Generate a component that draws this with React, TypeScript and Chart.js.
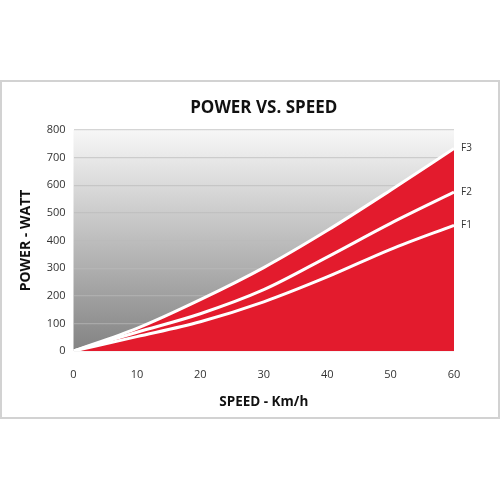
import React, { useEffect, useRef } from "react";
import { Chart, registerables } from "chart.js";

Chart.register(...registerables);

const speeds = [0, 10, 20, 30, 40, 50, 60];
const f1Power = [0, 52, 106, 178, 268, 368, 455];
const f2Power = [0, 68, 135, 222, 340, 462, 575];
const f3Power = [0, 82, 186, 302, 436, 582, 733];
const seriesLabels = ["F1", "F2", "F3"];
const yTicks = [0, 100, 200, 300, 400, 500, 600, 700, 800];
const xTicks = [0, 10, 20, 30, 40, 50, 60];

const RED = "#e31b2d";
const FONT = "'Open Sans', 'Noto Sans', sans-serif";

const toPoints = (vals: number[]) => vals.map((v, i) => ({ x: speeds[i], y: v }));

const bgPlugin = {
  id: "plotGradient",
  beforeDraw(chart: any) {
    const { ctx, chartArea } = chart;
    if (!chartArea) return;
    const g = ctx.createLinearGradient(0, chartArea.top, 0, chartArea.bottom);
    g.addColorStop(0, "#f7f7f7");
    g.addColorStop(1, "#838383");
    ctx.save();
    ctx.fillStyle = g;
    ctx.fillRect(chartArea.left, chartArea.top, chartArea.right - chartArea.left, chartArea.bottom - chartArea.top);
    ctx.restore();
  },
};

const labelPlugin = {
  id: "endLabels",
  afterDraw(chart: any) {
    const { ctx, chartArea, scales } = chart;
    ctx.save();
    ctx.fillStyle = "#111";
    ctx.font = `bold 17px ${FONT}`;
    ctx.textAlign = "center";
    ctx.textBaseline = "middle";
    ctx.fillText("POWER VS. SPEED", (chartArea.left + chartArea.right) / 2, chartArea.top - 22);
    ctx.font = `10px ${FONT}`;
    ctx.fillStyle = "#333";
    ctx.textAlign = "left";
    chart.data.datasets.forEach((ds: any) => {
      const last = ds.data[ds.data.length - 1];
      const px = scales.x.getPixelForValue(last.x) + 7;
      const py = scales.y.getPixelForValue(last.y);
      ctx.fillText(ds.label, px, py);
    });
    ctx.restore();
  },
};

export default function App() {
  const ref = useRef<HTMLCanvasElement>(null);
  useEffect(() => {
    if (!ref.current) return;
    const lineStyle = {
      borderColor: "#ffffff",
      borderWidth: 3,
      pointRadius: 0,
      cubicInterpolationMode: "monotone",
    };
    const chart = new Chart(ref.current, {
      type: "line",
      data: {
        datasets: [
          { label: seriesLabels[2], data: toPoints(f3Power), backgroundColor: RED, fill: "origin", ...lineStyle },
          { label: seriesLabels[1], data: toPoints(f2Power), fill: false, ...lineStyle },
          { label: seriesLabels[0], data: toPoints(f1Power), fill: false, ...lineStyle },
        ],
      },
      options: {
        responsive: false,
        animation: false,
        layout: { padding: { left: 0, right: 46, top: 130, bottom: 79 } },
        plugins: {
          legend: { display: false },
          tooltip: { enabled: false },
          title: { display: false },
          filler: { drawTime: "beforeDatasetsDraw" },
        } as any,
        scales: {
          x: {
            type: "linear",
            min: 0,
            max: 60,
            afterBuildTicks: (s: any) => {
              s.ticks = xTicks.map((v) => ({ value: v }));
            },
            afterFit: (s: any) => {
              s.height = 70;
            },
            grid: { display: false },
            border: { display: false },
            ticks: { color: "#333", font: { family: FONT, size: 11 }, padding: 9 },
            title: {
              display: true,
              text: "SPEED - Km/h",
              color: "#111",
              font: { family: FONT, size: 13.5, weight: "bold" },
              padding: { top: 0, bottom: 11 },
            },
          },
          y: {
            min: 0,
            max: 800,
            z: 1,
            afterBuildTicks: (s: any) => {
              s.ticks = yTicks.map((v) => ({ value: v }));
            },
            afterFit: (s: any) => {
              s.width = 73.5;
            },
            grid: { color: "rgba(185,185,185,0.6)", lineWidth: 1.2, drawTicks: false },
            border: { display: false },
            ticks: { color: "#333", font: { family: FONT, size: 11 }, padding: 8 },
            title: {
              display: true,
              text: "POWER - WATT",
              color: "#111",
              font: { family: FONT, size: 14, weight: "bold" },
              padding: { top: 18, bottom: 0 },
            },
          },
        },
      },
      plugins: [bgPlugin, labelPlugin],
    } as any);
    return () => chart.destroy();
  }, []);

  return (
    <div style={{ position: "fixed", left: 0, top: 0, width: 500, height: 500, background: "#fff" }}>
      <div
        style={{
          position: "absolute",
          left: 0,
          top: 80,
          width: 500,
          height: 339,
          boxSizing: "border-box",
          border: "2px solid #d2d2d2",
        }}
      />
      <canvas ref={ref} width={500} height={500} style={{ position: "absolute", left: 0, top: 0, width: 500, height: 500 }} />
    </div>
  );
}
